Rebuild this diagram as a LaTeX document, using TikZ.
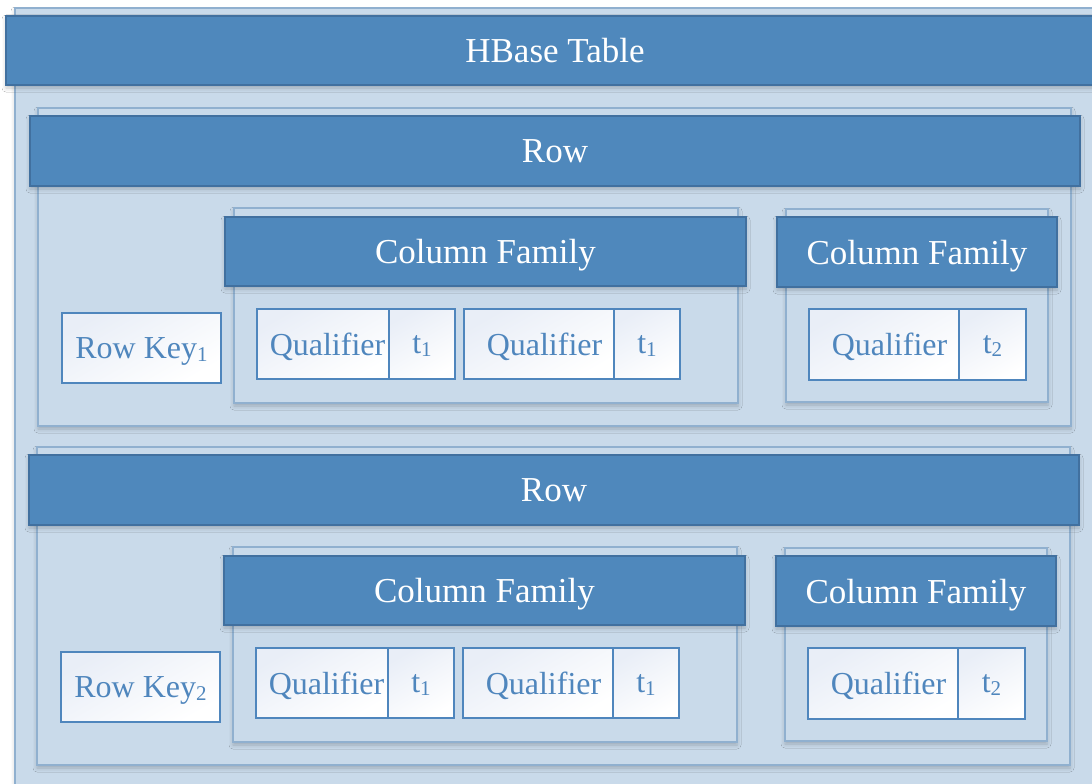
\documentclass[tikz,border=0pt]{standalone}
\usepackage{fontspec}
\setmainfont{Liberation Serif}
\usetikzlibrary{shadows.blur}

\definecolor{barfill}{HTML}{4F88BC}
\definecolor{barline}{HTML}{41709F}
\definecolor{boxfill}{HTML}{C9DAEA}
\definecolor{boxline}{HTML}{90B0CF}
\definecolor{cellline}{HTML}{4F86BD}
\definecolor{celltext}{HTML}{4F86BD}
\definecolor{celltint}{HTML}{E9EEF7}

\tikzset{
  x=1pt, y=-1pt,
  softshadow/.style={blur shadow={shadow xshift=0pt, shadow yshift=-3pt,
      shadow blur radius=4pt, shadow opacity=22}},
  container/.style={draw=boxline, line width=1.3pt, fill=boxfill,
      inner sep=0pt, softshadow},
  bar/.style={draw=barline, line width=1.3pt, fill=barfill, inner sep=0pt,
      text depth=0pt, text=white, font=\fontsize{35}{42}\selectfont, softshadow},
  cell/.style={draw=cellline, line width=1.3pt, inner sep=0pt, text depth=0pt,
      top color=celltint, bottom color=white, shading angle=30,
      text=celltext, font=\fontsize{32}{38}\selectfont},
  sz/.style 2 args={minimum width=#1pt, minimum height=#2pt},
}

\newcommand{\subidx}[1]{\raisebox{-3pt}{\fontsize{21}{21}\selectfont #1}}
\newcommand{\qual}{\hspace*{11pt}Qualifier}

% One table row: row key, two column families with their cells
\newcommand{\hbaserow}[2]{%
  \node[container, sz={1033}{318}] (row#1box) at (554.5,267) {};
  \node[bar, sz={1050}{70}] (row#1bar) at (555,151) {Row};
  \node[container, sz={504}{195}] (cfa#1box) at (486,305.5) {};
  \node[bar, sz={521}{69}] (cfa#1bar) at (485.5,251.5) {Column Family};
  \node[container, sz={262}{193}] (cfb#1box) at (917,305.5) {};
  \node[bar, sz={280}{70}] (cfb#1bar) at (917,252) {Column Family};
  \node[cell, sz={159}{70}] (key#1) at (141.5,348) {Row Key\subidx{#2}};
  \node[cell, sz={132}{70}] (qa#1) at (323,344) {\hspace*{9pt}Qualifier};
  \node[cell, sz={66}{70}] (ta#1) at (422,344) {t\subidx{1}};
  \node[cell, sz={150}{70}] (qb#1) at (539,344) {\qual};
  \node[cell, sz={66}{70}] (tb#1) at (647,344) {t\subidx{1}};
  \node[cell, sz={150}{71}] (qc#1) at (884,344.5) {\qual};
  \node[cell, sz={67}{71}] (tc#1) at (992.5,344.5) {t\subidx{2}};
}

\begin{document}
\begin{tikzpicture}
  \useasboundingbox (0,0) rectangle (1092,784);
  \clip (0,0) rectangle (1092,784);
  \fill[white] (0,0) rectangle (1092,784);

  % table frame and title bar
  \node[container, sz={1095}{792}] (table) at (562.5,404) {};
  \node[bar, sz={1098}{69}] (title) at (555,50.5) {HBase Table};

  % two rows
  \begin{scope}
    \hbaserow{1}{1}
  \end{scope}
  \begin{scope}[shift={(-1,339)}]
    \hbaserow{2}{2}
  \end{scope}
\end{tikzpicture}
\end{document}
